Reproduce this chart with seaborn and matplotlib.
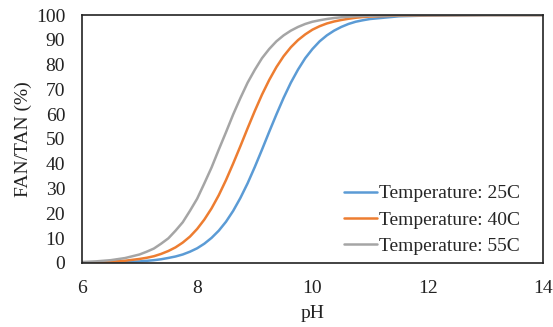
import numpy as np
import pandas as pd
import matplotlib
matplotlib.use("Agg")
import matplotlib.pyplot as plt
import seaborn as sns

ph = [6.0, 6.25, 6.5, 6.75, 7.0, 7.125, 7.25, 7.375, 7.5, 7.625, 7.75, 7.875,
      8.0, 8.125, 8.25, 8.375, 8.5, 8.625, 8.75, 8.875, 9.0, 9.125, 9.25, 9.375,
      9.5, 9.625, 9.75, 9.875, 10.0, 10.125, 10.25, 10.375, 10.5, 10.625, 10.75,
      10.875, 11.0, 11.5, 12.0, 13.0, 14.0]
t25 = [0.06, 0.11, 0.2, 0.35, 0.6, 0.83, 1.1, 1.47, 2.0, 2.59, 3.4, 4.52,
       5.9, 7.76, 10.1, 13.0, 16.6, 21.0, 26.2, 32.1, 38.7, 45.7, 52.9, 59.9,
       66.6, 72.7, 78.0, 82.6, 86.3, 89.4, 91.8, 93.7, 95.2, 96.4, 97.3,
       97.9, 98.4, 99.5, 99.8, 100.0, 100.0]
t40 = [0.16, 0.28, 0.5, 0.88, 1.6, 2.07, 2.7, 3.63, 4.8, 6.27, 8.2, 10.6,
       13.7, 17.5, 22.0, 27.3, 33.4, 40.1, 47.1, 54.3, 61.3, 67.9, 73.8, 79.0,
       83.4, 87.0, 89.9, 92.2, 94.1, 95.5, 96.6, 97.4, 98.0, 98.5, 98.9,
       99.2, 99.4, 99.8, 99.9, 100.0, 100.0]
t55 = [0.35, 0.63, 1.1, 1.96, 3.4, 4.52, 5.8, 7.76, 9.9, 13.0, 16.4, 21.0,
       25.9, 32.1, 38.5, 45.7, 52.7, 59.9, 66.5, 72.7, 77.9, 82.6, 86.3, 89.4,
       91.8, 93.7, 95.2, 96.4, 97.3, 97.9, 98.4, 98.8, 99.1, 99.3, 99.5,
       99.6, 99.7, 99.9, 100.0, 100.0, 100.0]
series = ["Temperature: 25C", "Temperature: 40C", "Temperature: 55C"]
colors = ["#5B9BD5", "#ED7D31", "#A5A5A5"]
xticks = [6, 8, 10, 12, 14]
yticks = list(range(0, 101, 10))

df = pd.concat([
    pd.DataFrame({"pH": ph, "FAN/TAN (%)": vals, "series": name})
    for name, vals in zip(series, [t25, t40, t55])
])

sns.set_style("white")
plt.rcParams['font.family'] = ['Liberation Serif', 'DejaVu Serif']

fig = plt.figure(figsize=(5.53, 3.27), dpi=100)
ax = fig.add_axes([0.148, 0.196, 0.834, 0.758])
sns.lineplot(data=df, x="pH", y="FAN/TAN (%)", hue="series", palette=colors,
             linewidth=1.8, ax=ax, legend=True)
ax.set_xlim(6, 14)
ax.set_ylim(0, 100)
ax.set_xticks(xticks)
ax.set_yticks(yticks)
ax.tick_params(axis='y', length=0, labelsize=14, colors='#222222', pad=12)
ax.tick_params(axis='x', length=0, labelsize=14, colors='#222222', pad=12)
for s in ax.spines.values():
    s.set_color('#222222')
    s.set_linewidth(1.2)
ax.set_xlabel("pH", fontsize=14, color='#222222', labelpad=6)
ax.set_ylabel("FAN/TAN (%)", fontsize=14, color='#222222', labelpad=3)
leg = ax.legend(frameon=False, loc='lower right', bbox_to_anchor=(0.967, 0.0),
                fontsize=14, handlelength=1.7, handletextpad=0.1,
                labelspacing=0.45, borderaxespad=0.0)
fig.savefig("out.png", dpi=100)
